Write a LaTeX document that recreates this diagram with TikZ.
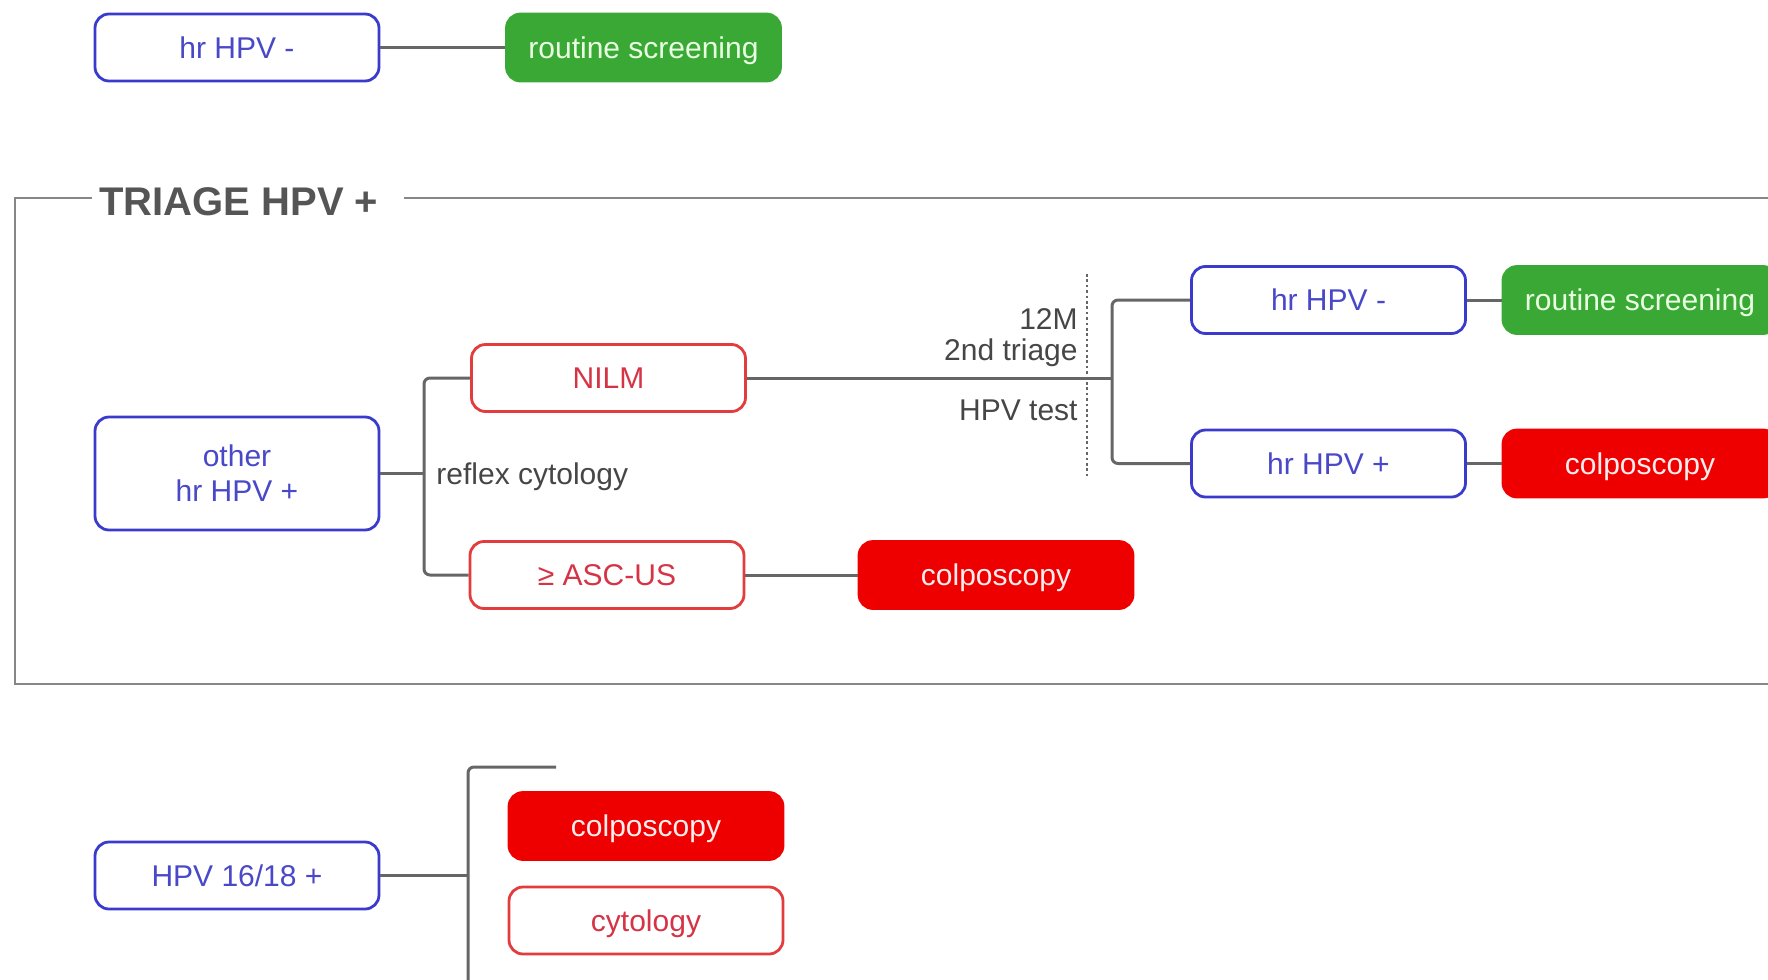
\documentclass[tikz,border=0pt]{standalone}
\usepackage{fontspec}
\setmainfont{Liberation Sans}
\begin{document}
\definecolor{hpvblue}{RGB}{58,58,204}
\definecolor{hpvbluetext}{RGB}{72,72,200}
\definecolor{posred}{RGB}{238,0,0}
\definecolor{posredtext}{RGB}{255,236,236}
\definecolor{cytored}{RGB}{226,60,60}
\definecolor{cytoredtext}{RGB}{214,52,70}
\definecolor{okgreen}{RGB}{58,168,52}
\definecolor{okgreentext}{RGB}{232,255,226}
\definecolor{linkgray}{RGB}{102,102,102}
\definecolor{labelgray}{RGB}{70,70,70}
\definecolor{titlegray}{RGB}{85,85,85}
\definecolor{framegray}{RGB}{135,135,135}
\begin{tikzpicture}[x=0.5pt,y=-0.5pt,
  basebox/.style={rounded corners=7pt, line width=1.4pt, minimum height=33.5pt,
    inner sep=0pt, align=center, font=\fontsize{15pt}{17.5pt}\selectfont},
  oneline/.style={text height=10.7pt, text depth=0pt},
  bluebox/.style={basebox, draw=hpvblue, fill=white, text=hpvbluetext, minimum width=142pt},
  redoutline/.style={basebox, oneline, draw=cytored, fill=white, text=cytoredtext, minimum width=137pt},
  redfill/.style={basebox, oneline, draw=posred, fill=posred, text=posredtext, minimum width=137pt},
  greenfill/.style={basebox, oneline, draw=okgreen, fill=okgreen, text=okgreentext, minimum width=137pt},
  link/.style={draw=linkgray, line width=1.5pt, rounded corners=3pt},
  sidelabel/.style={text=labelgray, inner sep=0pt, font=\fontsize{15pt}{17.5pt}\selectfont},
]
\useasboundingbox (0,0) rectangle (1768,980);
\clip (0,0) rectangle (1768,980);

% ---- negative result ----
\node[bluebox, oneline] (neg1) at (237,47.5) {hr HPV -};
\node[greenfill] (rs1) at (643.5,47.5) {routine screening};
\draw[link] (neg1) -- (rs1);

% ---- triage frame ----
\node[anchor=west, inner sep=0pt, text=titlegray,
      font=\fontsize{20pt}{24pt}\selectfont\bfseries] (title) at (99,202) {TRIAGE HPV +};
\coordinate (fa) at (404,198);
\coordinate (fb) at (1810,198);
\coordinate (fc) at (1810,684);
\coordinate (fd) at (15,684);
\coordinate (fe) at (15,198);
\coordinate (ff) at (92,198);
\draw[framegray, line width=1.3pt] (fa) -- (fb) -- (fc) -- (fd) -- (fe) -- (ff);

\node[bluebox, minimum height=56.5pt] (other) at (237,473.5) {other\\hr HPV +};
\node[redoutline] (nilm) at (608.5,378) {NILM};
\node[redoutline] (asc) at (607,575) {≥ ASC-US};
\node[redfill] (colpo1) at (996,575) {colposcopy};
\coordinate (j1) at (424,473.5);
\draw[link] (other.east) -- (j1);
\draw[link] (nilm.west) -| (j1) |- (asc.west);
\node[sidelabel, anchor=west] (reflex) at (436,477) {reflex cytology};
\draw[link] (asc) -- (colpo1);

\node[bluebox, oneline, minimum width=137pt] (neg2) at (1328.5,300) {hr HPV -};
\node[bluebox, oneline, minimum width=137pt] (pos2) at (1328.5,463.5) {hr HPV +};
\node[greenfill] (rs2) at (1640,300) {routine screening};
\node[redfill] (colpo2) at (1640,463.5) {colposcopy};
\coordinate (j2) at (1112,378);
\draw[link] (nilm.east) -- (j2);
\draw[link] (neg2.west) -| (j2) |- (pos2.west);
\draw[link] (neg2) -- (rs2);
\draw[link] (pos2) -- (colpo2);

% dotted marker of the 12-month re-test
\coordinate (dtop) at (1087,274);
\coordinate (dbot) at (1087,477);
\draw[linkgray, line width=1.4pt, dash pattern=on 1.3pt off 1.4pt] (dtop) -- (dbot);
\node[sidelabel, anchor=east] (twelve) at (1078,319) {12M};
\node[sidelabel, anchor=east] (second) at (1078,353) {2nd triage};
\node[sidelabel, anchor=east] (hpvtest) at (1078,410) {HPV test};

% ---- HPV 16/18 ----
\node[bluebox, oneline] (g1618) at (237,875.5) {HPV 16/18 +};
\node[redfill] (colpo3) at (646,826) {colposcopy};
\node[redoutline] (cyto) at (646,920.5) {cytology};
\coordinate (j3) at (468,875.5);
\coordinate (stub) at (556,767);
\coordinate (tail) at (468,1010);
\draw[link] (g1618.east) -- (j3);
\draw[link] (stub) -| (tail);
\end{tikzpicture}
\end{document}
